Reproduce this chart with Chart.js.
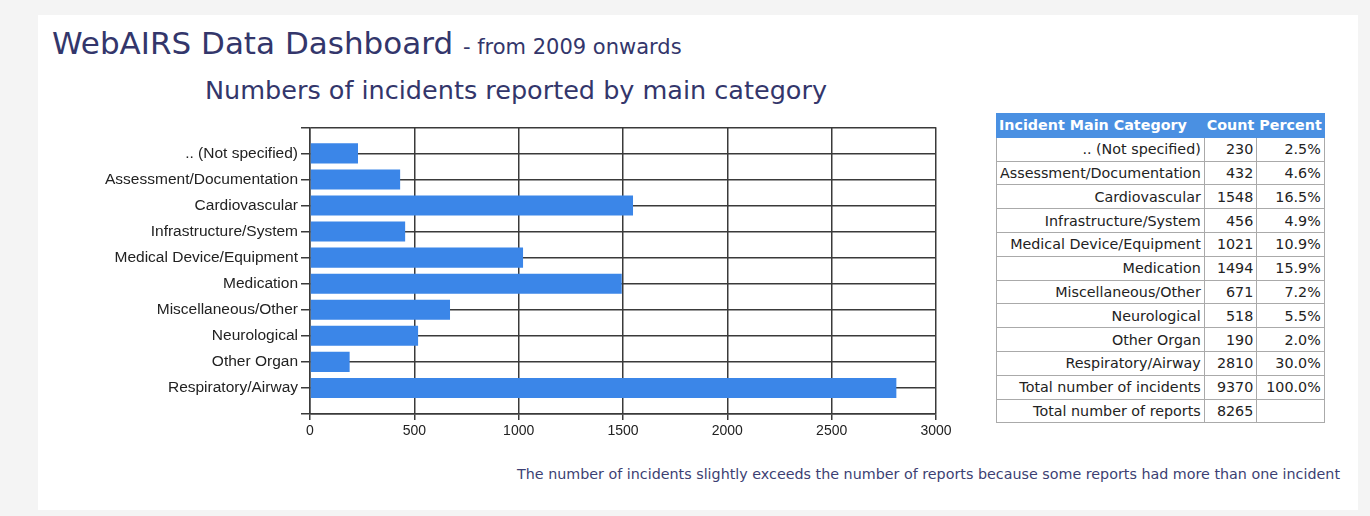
<!DOCTYPE html>
<html>
<head>
<meta charset="utf-8">
<title>WebAIRS Data Dashboard</title>
<script src="https://cdn.jsdelivr.net/npm/chart.js@4"></script>
<style>
  html, body { margin: 0; padding: 0; background: #f4f4f4; }
  body { width: 1370px; height: 516px; position: relative; overflow: hidden; font-family: "DejaVu Sans", Verdana, sans-serif; }
  #panel { position: absolute; left: 38px; top: 15px; width: 1320px; height: 495px; background: #fff; }
  #title { position: absolute; left: 52px; top: 25px; color: #33366b; font-size: 31px; white-space: nowrap; }
  #title small { font-size: 21px; }
  #subtitle { position: absolute; left: 205px; top: 75px; color: #33366b; font-size: 25.5px; white-space: nowrap; }
  #chartBox { position: absolute; left: 90px; top: 115px; width: 870px; height: 335px; }
  #tbl { position: absolute; left: 996px; top: 113px; border-collapse: collapse; font-size: 14.3px; color: #222; }
  #tbl th { background: #4a90e2; color: #fff; font-weight: bold; height: 22.8px; padding: 0 2px; border: 1px solid #4a90e2; text-align: left; white-space: nowrap; }
  #tbl td { border: 1px solid #aaa; height: 22.8px; padding: 0 3px; text-align: right; white-space: nowrap; }
  #note { position: absolute; right: 30px; top: 466px; color: #3c3f73; font-size: 14.3px; white-space: nowrap; }
</style>
</head>
<body>
<div id="panel"></div>
<div id="title">WebAIRS Data Dashboard <small>- from 2009 onwards</small></div>
<div id="subtitle">Numbers of incidents reported by main category</div>
<div id="chartBox"><canvas id="incChart"></canvas></div>
<table id="tbl"></table>
<div id="note">The number of incidents slightly exceeds the number of reports because some reports had more than one incident</div>
<script>
const categories = [".. (Not specified)", "Assessment/Documentation", "Cardiovascular", "Infrastructure/System",
  "Medical Device/Equipment", "Medication", "Miscellaneous/Other", "Neurological", "Other Organ", "Respiratory/Airway"];
const counts = [230, 432, 1548, 456, 1021, 1494, 671, 518, 190, 2810];
const percents = ["2.5%", "4.6%", "16.5%", "4.9%", "10.9%", "15.9%", "7.2%", "5.5%", "2.0%", "30.0%"];
const xTicks = [0, 500, 1000, 1500, 2000, 2500, 3000];
const totalIncidents = 9370;
const totalReports = 8265;

// table on the right
const tbl = document.getElementById('tbl');
let html = '<tr><th>Incident Main Category</th><th>Count</th><th>Percent</th></tr>';
categories.forEach(function (c, i) {
  html += '<tr><td>' + c + '</td><td>' + counts[i] + '</td><td>' + percents[i] + '</td></tr>';
});
html += '<tr><td>Total number of incidents</td><td>' + totalIncidents + '</td><td>100.0%</td></tr>';
html += '<tr><td>Total number of reports</td><td>' + totalReports + '</td><td></td></tr>';
tbl.innerHTML = html;

// bars sit on positions 1..10 of a 0..11 axis, like the original
const points = counts.map(function (v, i) { return { x: v, y: i + 1 }; });
const gridColor = '#3a3a3a';
const labelFont = '"Liberation Sans", Arial, sans-serif';

new Chart(document.getElementById('incChart'), {
  type: 'bar',
  data: {
    datasets: [{
      data: points,
      backgroundColor: '#3b86e8',
      borderWidth: 0,
      barPercentage: 0.77,
      categoryPercentage: 1.0
    }]
  },
  options: {
    indexAxis: 'y',
    responsive: true,
    maintainAspectRatio: false,
    animation: false,
    layout: { padding: { top: 12, right: 24, left: 0, bottom: 0 } },
    plugins: { legend: { display: false }, tooltip: { enabled: false } },
    scales: {
      x: {
        type: 'linear',
        min: 0,
        max: 3000,
        afterBuildTicks: function (scale) { scale.ticks = xTicks.map(function (v) { return { value: v }; }); },
        afterFit: function (scale) { scale.height = 36; },
        grid: { color: gridColor, lineWidth: 1.5, tickLength: 6, tickColor: gridColor },
        border: { color: gridColor, width: 1.5 },
        ticks: {
          color: '#222', padding: 3, font: { family: labelFont, size: 14 },
          callback: function (v) { return String(v); }
        }
      },
      y: {
        type: 'linear',
        reverse: true,
        offset: false,
        min: 0,
        max: 11,
        afterFit: function (scale) { scale.width = 220; },
        grid: { offset: false, color: gridColor, lineWidth: 1.5, tickLength: 9, tickColor: gridColor },
        border: { color: gridColor, width: 1.5 },
        ticks: {
          stepSize: 1,
          autoSkip: false,
          padding: 3,
          color: '#222',
          font: { family: labelFont, size: 15.5 },
          callback: function (v) { return categories[v - 1] || ''; }
        }
      }
    }
  }
});
</script>
</body>
</html>
